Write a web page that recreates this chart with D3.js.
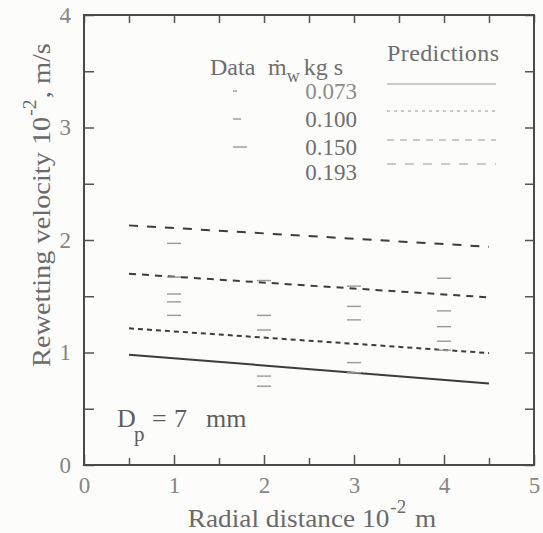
<!DOCTYPE html>
<html>
<head>
<meta charset="utf-8">
<script src="https://cdn.jsdelivr.net/npm/d3@7"></script>
<style>
  html, body { margin: 0; padding: 0; background: #fcfcfb; }
  svg { display: block; }
  text { font-family: "Liberation Serif", "Times New Roman", serif; }
</style>
</head>
<body>
<svg id="chart"></svg>
<script>
// prediction lines (x in 10^-2 m, y in 10^-2 m/s)
const predX = [0.5, 4.5];
const pred073 = [0.98, 0.725];
const pred100 = [1.215, 0.995];
const pred150 = [1.70, 1.49];
const pred193 = [2.13, 1.94];

// measured points [radial distance, velocity]
const data073 = [[2, 0.70], [2, 0.79], [3, 0.82], [3, 0.91], [4, 1.02]];
const data100 = [[1, 1.33], [1, 1.45], [2, 1.20], [3, 1.29], [4, 1.10], [4, 1.23]];
const data150 = [[1, 1.52], [1, 1.67], [2, 1.33], [2, 1.64], [3, 1.41], [3, 1.59], [4, 1.37], [4, 1.66]];
const data193 = [[1, 1.97]];

const flowLabels = ["0.073", "0.100", "0.150", "0.193"];
const xTicks = [0, 1, 2, 3, 4, 5];
const yTicks = [0, 1, 2, 3, 4];
const xMinor = [0.5, 1.5, 2.5, 3.5, 4.5];
const yMinor = [0.5, 1.5, 2.5, 3.5];

var width = 543, height = 533;
var plotL = 84, plotR = 534, plotT = 15, plotB = 465;

var svg = d3.select("#chart").attr("width", width).attr("height", height);

var x = d3.scaleLinear().domain([0, 5]).range([plotL, plotR]);
var y = d3.scaleLinear().domain([0, 4]).range([plotB, plotT]);

var ink = "#3c3c3c";
var grey = "#858585";

function clean(g) { g.select(".domain").remove(); }

// bottom axis with labels
svg.append("g")
  .attr("transform", "translate(0," + plotB + ")")
  .call(d3.axisBottom(x).tickValues(xTicks).tickSizeInner(-10).tickSizeOuter(0).tickPadding(12).tickFormat(d3.format("d")))
  .call(clean)
  .call(g => g.selectAll("line").attr("stroke", "#555").attr("stroke-width", 1.5))
  .call(g => g.selectAll("text").attr("fill", grey).attr("font-size", 23));
svg.append("g")
  .attr("transform", "translate(0," + plotB + ")")
  .call(d3.axisBottom(x).tickValues(xMinor).tickSizeInner(-7).tickSizeOuter(0).tickFormat(""))
  .call(clean)
  .call(g => g.selectAll("line").attr("stroke", "#555").attr("stroke-width", 1.5));

// top ticks
svg.append("g")
  .attr("transform", "translate(0," + plotT + ")")
  .call(d3.axisTop(x).tickValues(xTicks.concat(xMinor)).tickSizeInner(-8).tickSizeOuter(0).tickFormat(""))
  .call(clean)
  .call(g => g.selectAll("line").attr("stroke", "#555").attr("stroke-width", 1.5));

// left axis with labels
svg.append("g")
  .attr("transform", "translate(" + plotL + ",0)")
  .call(d3.axisLeft(y).tickValues(yTicks).tickSizeInner(-10).tickSizeOuter(0).tickPadding(13).tickFormat(d3.format("d")))
  .call(clean)
  .call(g => g.selectAll("line").attr("stroke", "#555").attr("stroke-width", 1.5))
  .call(g => g.selectAll("text").attr("fill", grey).attr("font-size", 23));
svg.append("g")
  .attr("transform", "translate(" + plotL + ",0)")
  .call(d3.axisLeft(y).tickValues(yMinor).tickSizeInner(-10).tickSizeOuter(0).tickFormat(""))
  .call(clean)
  .call(g => g.selectAll("line").attr("stroke", "#555").attr("stroke-width", 1.5));

// right ticks
svg.append("g")
  .attr("transform", "translate(" + plotR + ",0)")
  .call(d3.axisRight(y).tickValues(yTicks.concat(yMinor)).tickSizeInner(-9).tickSizeOuter(0).tickFormat(""))
  .call(clean)
  .call(g => g.selectAll("line").attr("stroke", "#555").attr("stroke-width", 1.5));

// frame
svg.append("rect")
  .attr("x", plotL).attr("y", plotT)
  .attr("width", plotR - plotL).attr("height", plotB - plotT)
  .attr("fill", "none").attr("stroke", "#4a4a4a").attr("stroke-width", 2);

// prediction lines
var preds = [
  { vals: pred073, dash: null },
  { vals: pred100, dash: "5,4" },
  { vals: pred150, dash: "7,6" },
  { vals: pred193, dash: "9,9" }
];
var line = d3.line().x(d => x(d[0])).y(d => y(d[1]));
svg.selectAll(".pred")
  .data(preds)
  .enter()
  .append("path")
  .attr("class", "pred")
  .attr("d", d => line(predX.map((px, i) => [px, d.vals[i]])))
  .attr("fill", "none")
  .attr("stroke", ink)
  .attr("stroke-width", 2)
  .attr("stroke-dasharray", d => d.dash);

// data markers: short horizontal dashes
var allData = data073.concat(data100, data150, data193);
svg.selectAll(".pt")
  .data(allData)
  .enter()
  .append("line")
  .attr("class", "pt")
  .attr("x1", d => x(d[0]) - 7)
  .attr("x2", d => x(d[0]) + 7)
  .attr("y1", d => y(d[1]))
  .attr("y2", d => y(d[1]))
  .attr("stroke", "#999")
  .attr("stroke-width", 1.4);

// legend
var leg = svg.append("g").attr("fill", "#6e6e6e").attr("font-size", 24);
leg.append("text").attr("x", 387).attr("y", 61).attr("textLength", 112).text("Predictions");
leg.append("text").attr("x", 210).attr("y", 75).text("Data");
var mw = leg.append("text").attr("x", 268).attr("y", 75);
mw.append("tspan").text("ṁ");
mw.append("tspan").attr("font-size", 18).attr("dy", 7).text("w");
mw.append("tspan").attr("dy", -7).attr("dx", 4).text("kg s");

var rowY = [99, 127, 155, 180];
leg.selectAll(".num")
  .data(flowLabels)
  .enter()
  .append("text")
  .attr("class", "num")
  .attr("x", 357)
  .attr("y", (d, i) => rowY[i])
  .attr("text-anchor", "end")
  .attr("font-size", 23)
  .attr("fill", (d, i) => i === 0 ? "#8c8c8c" : "#6e6e6e")
  .text(d => d);

// legend sample lines
var legLineY = [84, 111, 140, 164];
svg.selectAll(".legline")
  .data(preds)
  .enter()
  .append("line")
  .attr("class", "legline")
  .attr("x1", 387).attr("x2", 496)
  .attr("y1", (d, i) => legLineY[i])
  .attr("y2", (d, i) => legLineY[i])
  .attr("stroke", "#9a9a9a")
  .attr("stroke-width", 1.2)
  .attr("stroke-dasharray", (d, i) => i === 0 ? null : (i === 1 ? "3,4" : d.dash));

// legend data markers
var legMarkW = [4, 8, 14];
svg.selectAll(".legmark")
  .data(legMarkW)
  .enter()
  .append("line")
  .attr("class", "legmark")
  .attr("x1", 233).attr("x2", d => 233 + d)
  .attr("y1", (d, i) => rowY[i] - 8)
  .attr("y2", (d, i) => rowY[i] - 8)
  .attr("stroke", "#999")
  .attr("stroke-width", 1.4);

// D_p annotation
var dp = svg.append("g").attr("font-size", 26).attr("fill", "#5e5e5e");
dp.append("text").attr("x", 117).attr("y", 427).text("D");
dp.append("text").attr("x", 134).attr("y", 441).attr("font-size", 21).text("p");
dp.append("text").attr("x", 152).attr("y", 427).text("=");
dp.append("text").attr("x", 174).attr("y", 427).text("7");
dp.append("text").attr("x", 206).attr("y", 427).text("mm");

// axis titles
var xt = svg.append("text")
  .attr("transform", "translate(312,527) scale(1.05,1)")
  .attr("text-anchor", "middle")
  .attr("font-size", 26)
  .attr("fill", "#6a6a6a");
xt.append("tspan").text("Radial distance 10");
xt.append("tspan").attr("font-size", 18).attr("dy", -14).attr("dx", 1).text("-2");
xt.append("tspan").attr("dy", 14).attr("dx", 2).text(" m");

var yt = svg.append("text")
  .attr("transform", "translate(50,367) rotate(-90) scale(1.09,1)")
  .attr("font-size", 26)
  .attr("fill", "#6a6a6a");
yt.append("tspan").text("Rewetting velocity 10");
yt.append("tspan").attr("font-size", 18).attr("dy", -14).attr("dx", 1).text("-2");
yt.append("tspan").attr("dy", 14).attr("dx", 1).text(", m/s");
</script>
</body>
</html>
